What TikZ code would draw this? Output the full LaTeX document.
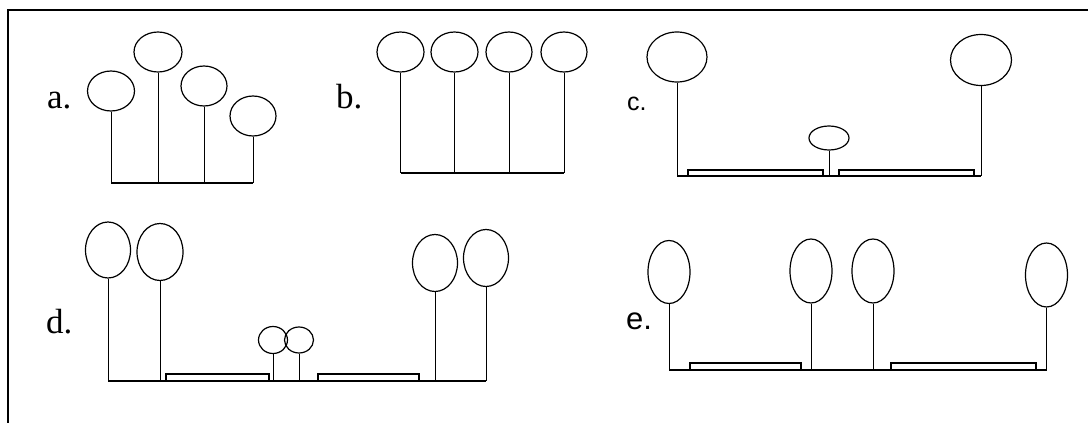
\documentclass[tikz,border=0pt]{standalone}
\usepackage{fontspec}
\setmainfont{Liberation Serif}
\newfontfamily\arialish{Liberation Sans}
\usetikzlibrary{shapes.geometric}
\begin{document}
\begin{tikzpicture}[x=1pt,y=-1pt,
  balloon/.style={draw,ellipse,inner sep=0pt,line width=1.2pt},
  stem/.style={line width=1pt},
  baseln/.style={line width=1.5pt},
  pad/.style={draw,line width=1.2pt},
  lblserif/.style={anchor=base west,inner sep=0pt,font=\fontsize{35}{40}\selectfont},
  lblsans/.style={anchor=base west,inner sep=0pt},
  frame/.style={line width=2.5pt}]
\useasboundingbox (0,0) rectangle (1088,423);
% frame
\coordinate (fTL) at (8,10);
\coordinate (fTR) at (1088,10);
\coordinate (fBL) at (8,423);
\draw[frame] (fBL) -- (fTL) -- (fTR);

% ---- panel a
\node[lblserif] (la) at (47,108) {a.};
\node[balloon,minimum width=47pt,minimum height=40pt] (a1) at (111,91) {};
\node[balloon,minimum width=48pt,minimum height=40pt] (a2) at (158,52) {};
\node[balloon,minimum width=46pt,minimum height=40pt] (a3) at (204,86) {};
\node[balloon,minimum width=46pt,minimum height=40pt] (a4) at (253,116) {};
\coordinate (ab1) at (111,183);
\coordinate (ab2) at (158,183);
\coordinate (ab3) at (204,183);
\coordinate (ab4) at (253,183);
\draw[stem] (a1.south) -- (ab1);
\draw[stem] (a2.south) -- (ab2);
\draw[stem] (a3.south) -- (ab3);
\draw[stem] (a4.south) -- (ab4);
\draw[baseln] (ab1) -- (ab4);

% ---- panel b
\node[lblserif] (lb) at (336,108) {b.};
\node[balloon,minimum width=47pt,minimum height=40pt] (b1) at (400.5,52) {};
\node[balloon,minimum width=47pt,minimum height=40pt] (b2) at (454.5,52) {};
\node[balloon,minimum width=46pt,minimum height=40pt] (b3) at (509,52) {};
\node[balloon,minimum width=46pt,minimum height=40pt] (b4) at (564,52) {};
\coordinate (bb1) at (400.5,173);
\coordinate (bb2) at (454.5,173);
\coordinate (bb3) at (509,173);
\coordinate (bb4) at (564,173);
\draw[stem] (b1.south) -- (bb1);
\draw[stem] (b2.south) -- (bb2);
\draw[stem] (b3.south) -- (bb3);
\draw[stem] (b4.south) -- (bb4);
\draw[baseln] (bb1) -- (bb4);

% ---- panel c
\node[lblsans,font=\arialish\fontsize{25}{30}\selectfont] (lc) at (627,110) {c.};
\node[balloon,minimum width=60pt,minimum height=50pt] (c1) at (677,57) {};
\node[balloon,minimum width=61pt,minimum height=51pt] (c2) at (981,60) {};
\node[balloon,minimum width=40pt,minimum height=24pt] (c3) at (829,138) {};
\coordinate (cb1) at (677,176);
\coordinate (cb2) at (981,176);
\coordinate (cb3) at (829,176);
\draw[stem] (c1.south) -- (cb1);
\draw[stem] (c2.south) -- (cb2);
\draw[stem] (c3.south) -- (cb3);
\draw[pad] (688,170) rectangle (823,176);
\draw[pad] (839,170) rectangle (974,176);
\draw[baseln] (cb1) -- (cb2);

% ---- panel d
\node[lblserif] (ld) at (46,333) {d.};
\node[balloon,minimum width=45pt,minimum height=56pt] (d1) at (108,250) {};
\node[balloon,minimum width=46pt,minimum height=57pt] (d2) at (160,252) {};
\node[balloon,minimum width=29pt,minimum height=27pt] (d3) at (273,340) {};
\node[balloon,minimum width=29pt,minimum height=26pt] (d4) at (299,340) {};
\node[balloon,minimum width=45pt,minimum height=57pt] (d5) at (435,263) {};
\node[balloon,minimum width=45pt,minimum height=57pt] (d6) at (486,258) {};
\coordinate (db1) at (108,381);
\coordinate (db2) at (160,381);
\coordinate (db3) at (273,381);
\coordinate (db4) at (299,381);
\coordinate (db5) at (435,381);
\coordinate (db6) at (486,381);
\draw[stem] (d1.south) -- (db1);
\draw[stem] (d2.south) -- (db2);
\draw[stem] (d3.south) -- (db3);
\draw[stem] (d4.south) -- (db4);
\draw[stem] (d5.south) -- (db5);
\draw[stem] (d6.south) -- (db6);
\draw[pad] (166,374) rectangle (269,381);
\draw[pad] (318,374) rectangle (419,381);
\draw[baseln] (db1) -- (db6);

% ---- panel e
\node[lblsans,font=\arialish\fontsize{31}{36}\selectfont] (le) at (626,329) {e.};
\node[balloon,minimum width=42pt,minimum height=63pt] (e1) at (669,272) {};
\node[balloon,minimum width=42pt,minimum height=64pt] (e2) at (811,271) {};
\node[balloon,minimum width=42pt,minimum height=64pt] (e3) at (873,271) {};
\node[balloon,minimum width=42pt,minimum height=64pt] (e4) at (1046.5,275) {};
\coordinate (eb1) at (669,370);
\coordinate (eb2) at (811,370);
\coordinate (eb3) at (873,370);
\coordinate (eb4) at (1046.5,370);
\draw[stem] (e1.south) -- (eb1);
\draw[stem] (e2.south) -- (eb2);
\draw[stem] (e3.south) -- (eb3);
\draw[stem] (e4.south) -- (eb4);
\draw[pad] (690,363) rectangle (801,370);
\draw[pad] (891,363) rectangle (1036,370);
\draw[baseln] (eb1) -- (eb4);
\end{tikzpicture}
\end{document}
